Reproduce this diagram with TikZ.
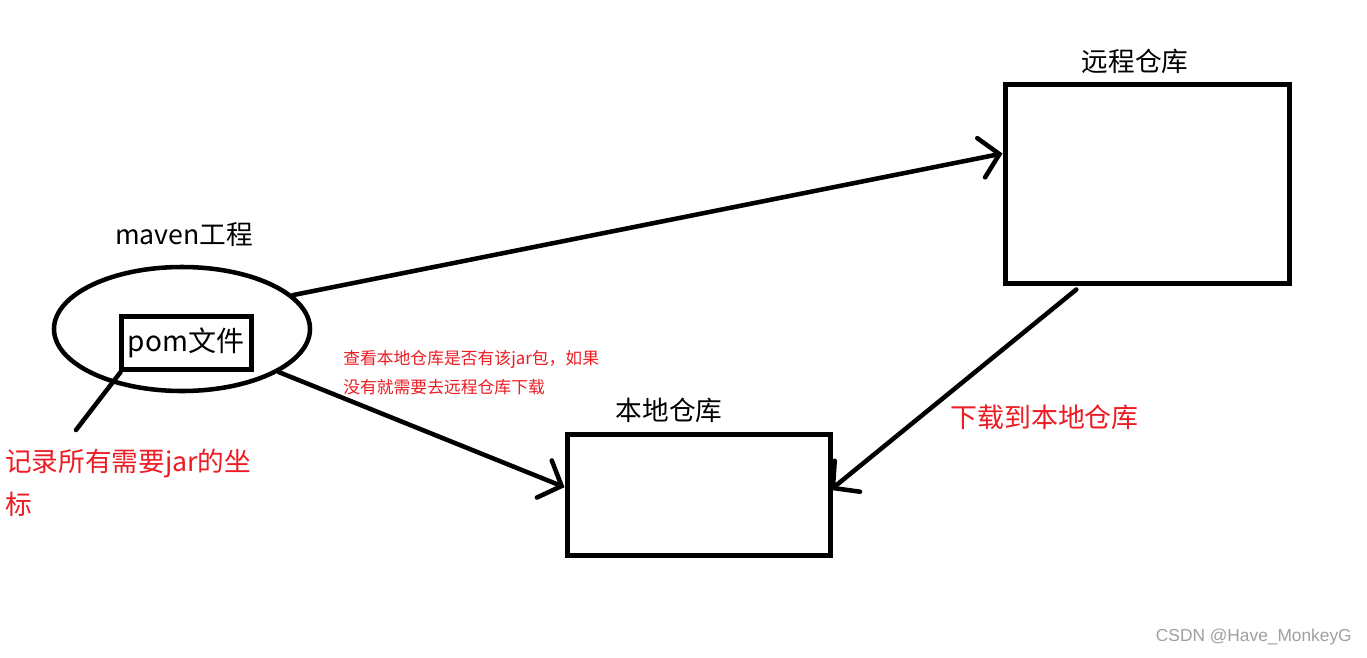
\documentclass[tikz,border=0pt]{standalone}
\usepackage{fontspec}
\newfontfamily\cjk{Noto Sans CJK SC}
\newfontfamily\wm{Liberation Sans}
\usetikzlibrary{shapes.geometric,arrows.meta}
\definecolor{paintred}{HTML}{ED1C24}
\definecolor{wmgray}{HTML}{A0A0A0}
\tikzset{
  boxshape/.style={draw=black, line width=3.75pt, rectangle, inner sep=0pt},
  conn/.style={line width=3.4pt, line cap=round},
  arr/.style={conn, -{Straight Barb[length=14pt,width=30pt,line cap=round]}},
  title/.style={font=\cjk\fontsize{20}{24}\selectfont, inner sep=0pt},
  redtxt/.style={text=paintred, inner sep=0pt, align=left}
}
\begin{document}
\begin{tikzpicture}[x=0.75pt,y=-0.75pt]
\useasboundingbox (0,0) rectangle (1367,657);
\fill[white] (0,0) rectangle (1367,657);
% maven project ellipse
\node[ellipse, draw, line width=3.4pt, minimum width=192pt, minimum height=93pt, inner sep=0pt] (maven) at (182,329) {};
\node[title] (mavenlbl) at (184,235) {maven工程};
\node[boxshape, minimum width=97.5pt, minimum height=39.75pt, font=\cjk\fontsize{21}{24}\selectfont] (pom) at (186,342.5) {pom文件};
% remote repository
\node[boxshape, minimum width=213pt, minimum height=149.25pt] (remote) at (1147,183.5) {};
\node[title] (remotelbl) at (1135,61) {远程仓库};
% local repository
\node[boxshape, minimum width=197.25pt, minimum height=90.75pt] (local) at (698.5,494.5) {};
\node[title] (locallbl) at (669,410) {本地仓库};
% connectors
\draw[arr] (maven.17) -- ([yshift=22.5pt]remote.west);
\draw[arr] (maven.-24) -- ([yshift=5.5pt]local.west);
\draw[arr] ([xshift=-53pt,yshift=-3pt]remote.south) -- ([yshift=3.4pt,xshift=-1.5pt]local.east);
\coordinate (lblend) at (76,430);
\draw[conn] ([xshift=1.5pt,yshift=-0.5pt]pom.south west) -- (lblend);
% red texts
\node[redtxt, anchor=west, font=\cjk\fontsize{12.6}{21.75}\selectfont] (note) at (343,372.5) {查看本地仓库是否有该jar包，如果\\没有就需要去远程仓库下载};
\node[redtxt, anchor=west, font=\cjk\fontsize{20.2}{24}\selectfont] (dl) at (950,417) {下载到本地仓库};
\node[redtxt, anchor=west, font=\cjk\fontsize{20}{32.25}\selectfont] (coord) at (5,482.5) {记录所有需要jar的坐\\标};
% watermark
\node[anchor=east, text=wmgray, font=\wm\fontsize{13}{15}\selectfont, inner sep=0pt] (wmk) at (1352,637) {CSDN @Have\_MonkeyG};
\end{tikzpicture}
\end{document}
